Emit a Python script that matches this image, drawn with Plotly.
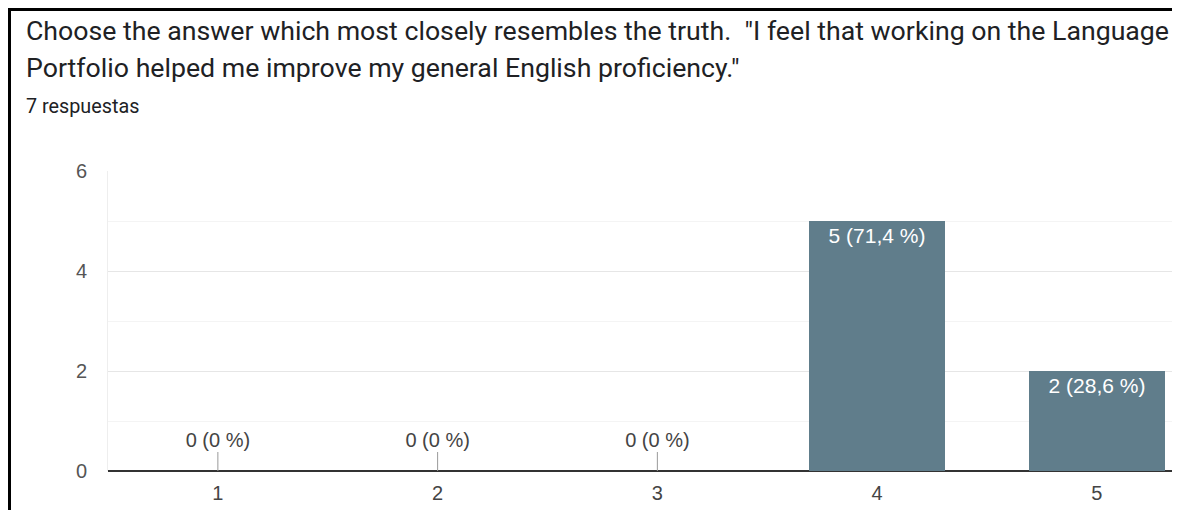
import plotly.graph_objects as go

categories = [1, 2, 3, 4, 5]
counts = [0, 0, 0, 5, 2]
labels = ["0 (0 %)", "0 (0 %)", "0 (0 %)", "5 (71,4 %)", "2 (28,6 %)"]
y_ticks = [0, 2, 4, 6]
title_line1 = 'Choose the answer which most closely resembles the truth.  "I feel that working on the Language'
title_line2 = 'Portfolio helped me improve my general English proficiency."'
subtitle = "7 respuestas"

OFF = 8  # page body margin offset
W, H = 1180 - OFF, 510 - OFF
L, R, T, B = 108 - OFF, 0, 171 - OFF, 39
STEP = 219.75  # px per category
STUB = 0.38    # height of the zero-value marker stub (style)
CHART_FONT = "Liberation Sans, Arial, sans-serif"
TITLE_FONT = "Roboto, Arial, sans-serif"
BAR_COLOR = "#607d8b"

pw = W - L - R
ph = H - T - B
x_lo = 0.5
x_hi = x_lo + pw / STEP

def px_x(px):  # px in window coordinates
    return (px - OFF - L) / pw

def px_y(py):
    return (H - B - (py - OFF)) / ph

fig = go.Figure()

nz_x = [c for c, v in zip(categories, counts) if v > 0]
nz_y = [v for v in counts if v > 0]
nz_t = [t for t, v in zip(labels, counts) if v > 0]
fig.add_trace(go.Bar(
    x=nz_x, y=nz_y, text=nz_t, width=0.62,
    marker=dict(color=BAR_COLOR, line=dict(width=0)),
    textposition="inside", insidetextanchor="end",
    textfont=dict(color="white", size=21, family=CHART_FONT),
    textangle=0, cliponaxis=False, showlegend=False, hoverinfo="skip",
))

z_x = [c for c, v in zip(categories, counts) if v == 0]
z_t = [t for t, v in zip(labels, counts) if v == 0]
stub_x, stub_y = [], []
for c in z_x:
    stub_x += [c, c, None]
    stub_y += [0, STUB, None]
fig.add_trace(go.Scatter(
    x=stub_x, y=stub_y, mode="lines",
    line=dict(color="#999999", width=1),
    showlegend=False, hoverinfo="skip",
))
fig.add_trace(go.Scatter(
    x=z_x, y=[STUB] * len(z_x), mode="text", text=z_t,
    textposition="top center",
    textfont=dict(color="#444444", size=20, family=CHART_FONT),
    showlegend=False, hoverinfo="skip", cliponaxis=False,
))

fig.update_layout(
    width=W, height=H,
    margin=dict(l=L, r=R, t=T, b=B, pad=0),
    paper_bgcolor="white", plot_bgcolor="white",
    bargap=0,
    xaxis=dict(
        range=[x_lo, x_hi], tickmode="array", tickvals=categories,
        ticktext=[str(c) for c in categories],
        showgrid=False, zeroline=False, showline=False, ticks="",
        ticklabelstandoff=8,
        tickfont=dict(size=20, color="#444444", family=CHART_FONT),
        fixedrange=True,
    ),
    yaxis=dict(
        range=[0, 6], tickmode="array", tickvals=y_ticks,
        showgrid=True, gridcolor="#e6e6e6", gridwidth=1,
        zeroline=True, zerolinecolor="#333333", zerolinewidth=2,
        showline=True, linecolor="#eeeeee", linewidth=1,
        ticks="", ticklabelstandoff=16,
        tickfont=dict(size=20, color="#555555", family=CHART_FONT),
        minor=dict(dtick=1, showgrid=True, gridcolor="#f4f4f4", gridwidth=1),
        fixedrange=True,
    ),
    annotations=[
        dict(text=title_line1, xref="paper", yref="paper",
             x=px_x(24), y=px_y(31), xanchor="left", yanchor="middle",
             showarrow=False, font=dict(size=26.7, color="#202124", family=TITLE_FONT)),
        dict(text=title_line2, xref="paper", yref="paper",
             x=px_x(24), y=px_y(68), xanchor="left", yanchor="middle",
             showarrow=False, font=dict(size=26.7, color="#202124", family=TITLE_FONT)),
        dict(text=subtitle, xref="paper", yref="paper",
             x=px_x(24), y=px_y(107), xanchor="left", yanchor="middle",
             showarrow=False, font=dict(size=19.8, color="#202124", family=TITLE_FONT)),
    ],
    shapes=[
        dict(type="line", xref="paper", yref="paper",
             x0=px_x(9.5), x1=px_x(9.5), y0=px_y(OFF), y1=px_y(520),
             line=dict(color="black", width=3)),
        dict(type="line", xref="paper", yref="paper",
             x0=px_x(8), x1=px_x(1190), y0=px_y(OFF + 1.5), y1=px_y(OFF + 1.5),
             line=dict(color="black", width=3)),
    ],
)

fig.write_html("out.html", config={"displayModeBar": False})
